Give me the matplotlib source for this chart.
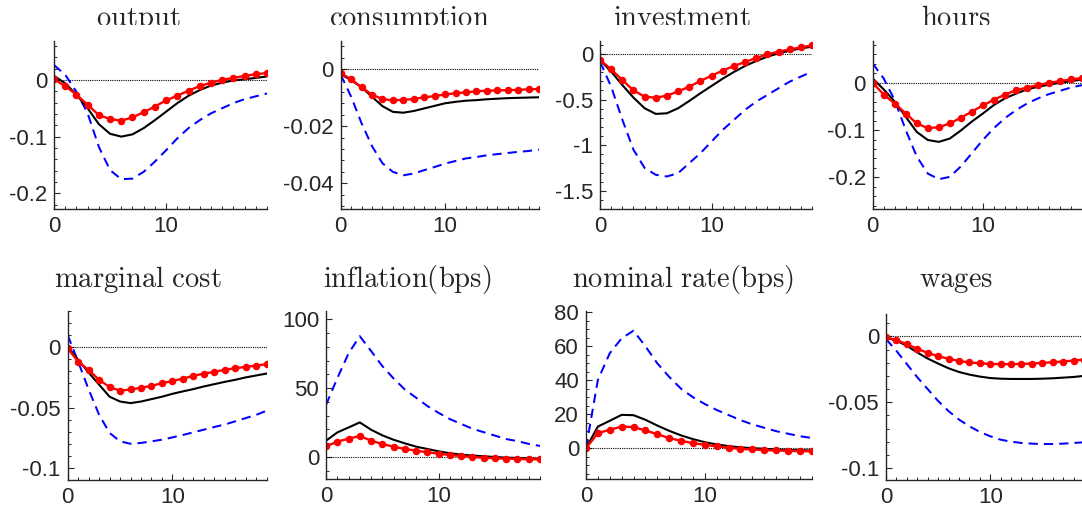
import matplotlib
matplotlib.use("Agg")
import matplotlib.pyplot as plt
from matplotlib.ticker import FixedLocator, AutoMinorLocator, MultipleLocator
from matplotlib.transforms import Bbox
import numpy as np

plt.rcParams['mathtext.fontset'] = 'cm'
plt.rcParams['font.family'] = ['Liberation Sans', 'DejaVu Sans']

horizon = list(range(20))

titles = ["output", "consumption", "investment", "hours",
          "marginal cost", "inflation(bps)", "nominal rate(bps)", "wages"]

# ---- data: black solid, blue dashed, red dotted-marker ----
output_black = [0.007, -0.006, -0.026, -0.050, -0.078, -0.095, -0.100, -0.096, -0.085, -0.071,
                -0.056, -0.041, -0.028, -0.018, -0.010, -0.005, -0.001, 0.001, 0.0035, 0.006]
output_blue = [0.026, 0.009, -0.021, -0.059, -0.118, -0.159, -0.175, -0.174, -0.162, -0.144,
               -0.124, -0.103, -0.085, -0.071, -0.059, -0.050, -0.041, -0.034, -0.029, -0.024]
output_red = [0.001, -0.011, -0.026, -0.044, -0.062, -0.069, -0.072, -0.066, -0.057, -0.047,
              -0.036, -0.028, -0.019, -0.011, -0.005, 0.0, 0.0035, 0.007, 0.010, 0.012]

cons_black = [-0.0018, -0.0039, -0.0064, -0.0097, -0.0130, -0.0150, -0.0153, -0.0147, -0.0138, -0.0129,
              -0.0120, -0.0115, -0.0111, -0.0109, -0.0106, -0.0104, -0.0102, -0.0101, -0.0100, -0.0099]
cons_blue = [-0.0020, -0.0097, -0.0190, -0.0270, -0.0330, -0.0360, -0.0372, -0.0366, -0.0354, -0.0343,
             -0.0331, -0.0322, -0.0313, -0.0308, -0.0302, -0.0298, -0.0294, -0.0290, -0.0287, -0.0282]
cons_red = [-0.0015, -0.0036, -0.0064, -0.0090, -0.0105, -0.0110, -0.0108, -0.0105, -0.0099, -0.0095,
            -0.0089, -0.0085, -0.0082, -0.0078, -0.0076, -0.0075, -0.0074, -0.0073, -0.0071, -0.0070]

inv_black = [-0.066, -0.193, -0.340, -0.478, -0.595, -0.657, -0.650, -0.595, -0.515, -0.430,
             -0.350, -0.270, -0.197, -0.131, -0.077, -0.029, 0.007, 0.036, 0.062, 0.080]
inv_blue = [-0.084, -0.358, -0.720, -1.050, -1.250, -1.325, -1.343, -1.307, -1.197, -1.088,
            -0.960, -0.832, -0.723, -0.613, -0.522, -0.449, -0.376, -0.303, -0.248, -0.193]
inv_red = [-0.066, -0.168, -0.285, -0.400, -0.467, -0.480, -0.456, -0.410, -0.358, -0.296,
           -0.237, -0.182, -0.131, -0.088, -0.044, -0.004, 0.026, 0.051, 0.073, 0.095]

hours_black = [0.009, -0.014, -0.040, -0.072, -0.104, -0.121, -0.125, -0.118, -0.101, -0.082,
               -0.065, -0.047, -0.033, -0.023, -0.014, -0.0085, -0.004, 0.0, 0.0035, 0.007]
hours_blue = [0.041, 0.009, -0.037, -0.100, -0.156, -0.192, -0.204, -0.199, -0.177, -0.149,
              -0.121, -0.096, -0.075, -0.058, -0.044, -0.033, -0.024, -0.017, -0.010, -0.005]
hours_red = [0.0, -0.025, -0.044, -0.065, -0.086, -0.096, -0.094, -0.086, -0.074, -0.061,
             -0.048, -0.036, -0.025, -0.016, -0.010, -0.005, 0.0, 0.0035, 0.007, 0.010]

mc_black = [0.0005, -0.0105, -0.021, -0.031, -0.041, -0.045, -0.0463, -0.045, -0.043, -0.041,
            -0.0386, -0.0366, -0.0347, -0.0325, -0.0306, -0.0287, -0.027, -0.025, -0.0234, -0.0218]
mc_blue = [0.010, -0.012, -0.035, -0.056, -0.071, -0.078, -0.080, -0.0793, -0.078, -0.0766,
           -0.0747, -0.0727, -0.0705, -0.0683, -0.0661, -0.064, -0.0614, -0.0587, -0.056, -0.0526]
mc_red = [-0.001, -0.012, -0.019, -0.027, -0.033, -0.036, -0.035, -0.0336, -0.032, -0.0298,
          -0.028, -0.026, -0.0237, -0.0218, -0.0204, -0.0187, -0.0174, -0.0163, -0.0152, -0.014]

infl_black = [11.8, 17.8, 21.4, 25.1, 19.8, 15.7, 12.5, 9.9, 7.5, 5.8,
              4.1, 2.7, 1.7, 1.0, 0.5, 0.0, -0.5, -0.7, -1.2, -1.4]
infl_blue = [37.8, 57.1, 75.2, 87.7, 77.0, 66.0, 57.0, 49.0, 43.0, 37.0,
             32.0, 27.5, 24.0, 20.5, 18.0, 15.5, 13.0, 11.5, 9.5, 8.0]
infl_red = [7.7, 11.1, 13.3, 15.2, 11.8, 9.4, 7.5, 5.8, 4.6, 3.4,
            2.4, 1.4, 0.7, 0.0, -0.5, -1.0, -1.2, -1.4, -1.7, -1.7]

rate_black = [0.0, 12.7, 16.1, 19.6, 19.4, 16.7, 13.3, 10.2, 7.5, 5.3,
              3.5, 2.2, 1.2, 0.4, 0.0, -0.4, -0.8, -1.0, -1.2, -1.4]
rate_blue = [0.0, 40.2, 55.9, 64.7, 69.2, 60.0, 50.0, 42.0, 35.0, 30.0,
             26.0, 22.5, 19.5, 16.5, 14.0, 12.0, 10.0, 8.5, 7.0, 6.0]
rate_red = [0.0, 8.8, 10.8, 12.7, 12.4, 10.4, 8.2, 5.9, 4.3, 2.9,
            2.0, 1.0, 0.2, -0.4, -0.8, -1.2, -1.4, -1.6, -1.8, -1.8]

wage_black = [-0.0008, -0.0033, -0.0071, -0.0122, -0.0168, -0.0206, -0.0242, -0.0270, -0.0290, -0.0305,
              -0.0316, -0.0321, -0.0323, -0.0323, -0.0323, -0.0321, -0.0318, -0.0313, -0.0308, -0.0300]
wage_blue = [-0.002, -0.011, -0.021, -0.031, -0.040, -0.049, -0.0567, -0.0631, -0.0682, -0.0725,
             -0.0758, -0.0784, -0.0799, -0.0809, -0.0814, -0.0817, -0.0817, -0.0814, -0.0809, -0.0804]
wage_red = [-0.0008, -0.0028, -0.0059, -0.0094, -0.0125, -0.0150, -0.0170, -0.0186, -0.0198, -0.0204,
            -0.0209, -0.0211, -0.0211, -0.0209, -0.0206, -0.0201, -0.0196, -0.0191, -0.0183, -0.0176]

series = [
    (output_black, output_blue, output_red),
    (cons_black, cons_blue, cons_red),
    (inv_black, inv_blue, inv_red),
    (hours_black, hours_blue, hours_red),
    (mc_black, mc_blue, mc_red),
    (infl_black, infl_blue, infl_red),
    (rate_black, rate_blue, rate_red),
    (wage_black, wage_blue, wage_red),
]

ytick_values = [
    [0, -0.1, -0.2],
    [0, -0.02, -0.04],
    [0, -0.5, -1, -1.5],
    [0, -0.1, -0.2],
    [0, -0.05, -0.1],
    [0, 50, 100],
    [0, 20, 40, 60, 80],
    [0, -0.05, -0.1],
]
ytick_labels = [
    ["0", "-0.1", "-0.2"],
    ["0", "-0.02", "-0.04"],
    ["0", "-0.5", "-1", "-1.5"],
    ["0", "-0.1", "-0.2"],
    ["0", "-0.05", "-0.1"],
    ["0", "50", "100"],
    ["0", "20", "40", "60", "80"],
    ["0", "-0.05", "-0.1"],
]
xtick_values = [0, 10]
xtick_labels = ["0", "10"]

# ---- layout (pixels) ----
W, H = 1082, 508
boxes = [  # left, top, right, bottom
    (54, 40.7, 267, 209),
    (340.7, 40.7, 539, 209),
    (600, 40.7, 812, 209),
    (872.7, 40.7, 1082, 209),
    (67.7, 311, 266.7, 480),
    (326, 311, 540, 479),
    (586, 311, 811.7, 479),
    (886, 314, 1084, 480),
]
ylims = [(-0.2275, 0.069), (-0.049, 0.0099), (-1.70, 0.146), (-0.267, 0.089),
         (-0.11, 0.03), (-16, 106), (-18.2, 80.8), (-0.109, 0.017)]
minor_n = [5, 5, 5, 5, 5, 5, 4, 5]
title_x = [138, 409, 682, 956, 138, 407, 683, 956]
title_base = [26, 26, 26, 26, 287, 287, 287, 287]

fig = plt.figure(figsize=(W / 100, H / 100), dpi=100)
gray = '#262626'

for i in range(8):
    l, t, r, b = boxes[i]
    ax = fig.add_axes([l / W, 1 - b / H, (r - l) / W, (b - t) / H])
    blk, blu, red = series[i]
    ax.plot([horizon[0], horizon[-1]], [0, 0], color='black', lw=0.8, ls=(0, (1, 1)))
    ax.plot(horizon, blu, color='#0000ff', lw=1.45, dashes=(4.6, 3.0))
    ax.plot(horizon, blk, color='black', lw=1.5)
    ax.plot(horizon, red, color='#ff0000', lw=1.7, marker='o', ms=4.4,
            markeredgecolor='#ff0000', markerfacecolor='#ff0000')
    ax.set_xlim(0, 19)
    ax.set_ylim(*ylims[i])
    ax.yaxis.set_major_locator(FixedLocator(ytick_values[i]))
    ax.set_yticklabels(ytick_labels[i])
    ax.xaxis.set_major_locator(FixedLocator(xtick_values))
    ax.set_xticklabels(xtick_labels)
    ax.xaxis.set_minor_locator(MultipleLocator(1))
    ax.yaxis.set_minor_locator(AutoMinorLocator(minor_n[i]))
    for s in ('top', 'right'):
        ax.spines[s].set_visible(False)
    for s in ('left', 'bottom'):
        ax.spines[s].set_color(gray)
        ax.spines[s].set_linewidth(1.0)
    ax.tick_params(which='both', direction='in', colors=gray, labelsize=16,
                   labelcolor=gray, top=False, right=False)
    ax.tick_params(which='major', length=4, width=0.8, pad=5)
    ax.tick_params(which='minor', length=2.2, width=0.7)
    ax.patch.set_alpha(0)

    txt = fig.text(title_x[i] / W, 1 - title_base[i] / H,
                   r'$\mathrm{' + titles[i].replace(' ', r'\ ') + '}$',
                   ha='center', va='baseline', fontsize=20.6, color=gray)
    if i < 4:
        txt.set_clip_on(True)
        txt.set_clip_box(Bbox([[0, H - 25], [W, H]]))

fig.savefig('out.png', dpi=100)
